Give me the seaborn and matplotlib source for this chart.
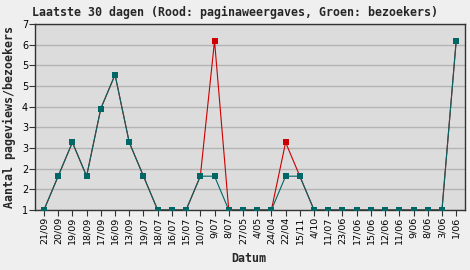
import matplotlib
matplotlib.use("Agg")
import matplotlib.pyplot as plt
import seaborn as sns
import numpy as np
import pandas as pd
from matplotlib import font_manager

dates = ["21/09", "20/09", "19/09", "18/09", "17/09", "16/09", "13/09", "19/07", "18/07", "16/07",
         "15/07", "10/07", "9/07", "8/07", "27/05", "4/05", "24/04", "22/04", "15/11", "4/10",
         "11/07", "23/06", "17/06", "15/06", "12/06", "11/06", "9/06", "8/06", "3/06", "1/06"]
pageviews = [1, 2, 3, 2, 4, 5, 3, 2, 1, 1, 1, 2, 6, 1, 1, 1, 1, 3, 2, 1, 1, 1, 1, 1, 1, 1, 1, 1, 1, 6]
visitors = [1, 2, 3, 2, 4, 5, 3, 2, 1, 1, 1, 2, 2, 1, 1, 1, 1, 2, 2, 1, 1, 1, 1, 1, 1, 1, 1, 1, 1, 6]
y_min, y_max = 1, 6.5

title = "Laatste 30 dagen (Rood: paginaweergaves, Groen: bezoekers)"
ylabel = "Aantal pageviews/bezoekers"
xlabel = "Datum"

sns.set_theme(style="white")
names = {f.name for f in font_manager.fontManager.ttflist}
tick_family = ["Liberation Sans Narrow", "DejaVu Sans"] if "Liberation Sans Narrow" in names else ["DejaVu Sans"]
plt.rcParams["font.family"] = ["DejaVu Sans"]

df = pd.DataFrame({"pos": np.arange(len(dates)), "pv": pageviews, "vis": visitors})

fig = plt.figure(figsize=(4.70, 2.70), dpi=100, facecolor="#efefef")
ax = fig.add_axes([35 / 470, 60 / 270, 430 / 470, 186 / 270])
ax.set_facecolor("#dcdcdc")

red = "#cc0000"
green = "#006666"
sns.lineplot(data=df, x="pos", y="pv", ax=ax, color=red, lw=0.8, marker="s",
             markersize=5, markeredgewidth=0, sort=False, zorder=3)
sns.lineplot(data=df, x="pos", y="vis", ax=ax, color=green, lw=0.8, marker="s",
             markersize=5, markeredgewidth=0, sort=False, zorder=4)

ax.set_xlim(-0.63, len(dates) - 1 + 0.62)
ax.set_ylim(y_min, y_max)
yt = np.linspace(y_min, y_max, 10)
ax.set_yticks(yt)
ax.set_yticklabels([str(int(np.floor(v + 0.5))) for v in yt], family=tick_family, fontsize=7)
ax.set_xticks(df["pos"])
ax.set_xticklabels(dates, rotation=90, family=tick_family, fontsize=6.8)
ax.yaxis.grid(True, color="#b4b4b4", lw=1.0)
ax.set_axisbelow(True)
ax.tick_params(axis="both", direction="out", length=4, width=0.8, color="#333333",
               labelcolor="#000000", pad=1)
ax.tick_params(axis="x", bottom=True)
ax.tick_params(axis="y", left=True)
for s in ax.spines.values():
    s.set_color("#333333")
    s.set_linewidth(1.0)

mono = {"family": "DejaVu Sans Mono", "weight": "bold", "size": 8.4}
fig.text(32 / 470, 1 - 12 / 270, title, ha="left", va="center", **mono)
ax.set_ylabel(ylabel, fontdict=mono, labelpad=4)
ax.set_xlabel("")
fig.text(249 / 470, 1 - 258 / 270, xlabel, ha="center", va="center", **mono)

fig.savefig("out.png", dpi=100, facecolor=fig.get_facecolor())
